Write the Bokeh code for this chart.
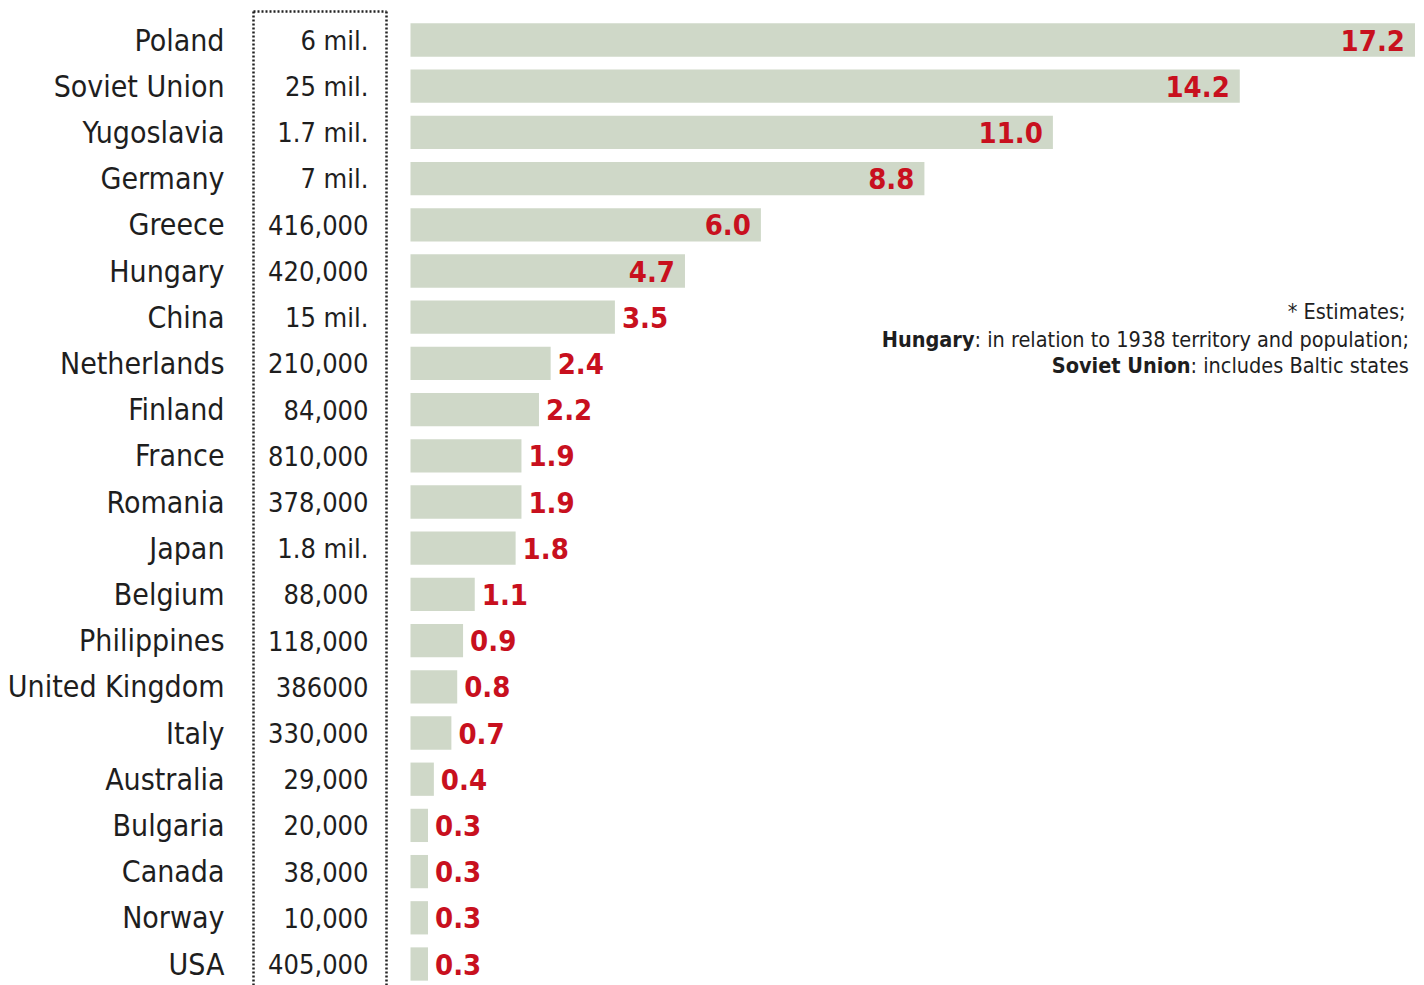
from bokeh.plotting import figure
from bokeh.models import ColumnDataSource, Range1d
from bokeh.core.properties import value
from bokeh.embed import file_html
from bokeh.resources import INLINE

countries = ["Poland", "Soviet Union", "Yugoslavia", "Germany", "Greece", "Hungary",
             "China", "Netherlands", "Finland", "France", "Romania", "Japan", "Belgium",
             "Philippines", "United Kingdom", "Italy", "Australia", "Bulgaria", "Canada",
             "Norway", "USA"]
deaths = ["6 mil.", "25 mil.", "1.7 mil.", "7 mil.", "416,000", "420,000", "15 mil.",
          "210,000", "84,000", "810,000", "378,000", "1.8 mil.", "88,000", "118,000",
          "386000", "330,000", "29,000", "20,000", "38,000", "10,000", "405,000"]
percent = [17.2, 14.2, 11.0, 8.8, 6.0, 4.7, 3.5, 2.4, 2.2, 1.9, 1.9, 1.8, 1.1, 0.9,
           0.8, 0.7, 0.4, 0.3, 0.3, 0.3, 0.3]
note_lines = ["* Estimates;", "in relation to 1938 territory and population;",
              "includes Baltic states"]
note_bold = ["", "Hungary", "Soviet Union"]

W, H = 1424, 985
X0_PX = 410.0
PX_PER_UNIT = 58.4
ROW_PX = 46.2
FIRST_ROW_PX = 39.5

def px2x(px):
    return (px - X0_PX) / PX_PER_UNIT

def px2y(py):
    return (FIRST_ROW_PX - py) / ROW_PX

BAR = "#cfd8c8"
RED = "#c8101e"
INK = "#1e1e1e"
FONT = "DejaVu Sans Condensed"

p = figure(width=W, height=H, output_backend="svg", toolbar_location=None,
           x_range=Range1d(px2x(0), px2x(W)), y_range=Range1d(px2y(H), px2y(0)),
           min_border=0, outline_line_color=None)
p.axis.visible = False
p.grid.visible = False
p.background_fill_color = "white"
p.border_fill_color = "white"

ys = [-i for i in range(len(countries))]
src = ColumnDataSource(dict(y=ys, name=countries, deaths=deaths, pct=percent))

p.hbar(y="y", left=0, right="pct", height=0.72, source=src,
       fill_color=BAR, line_color=None)

p.text(x=px2x(224), y="y", text="name", source=src, text_align="right",
       text_baseline="middle", text_font=value(FONT), text_font_size="30px",
       text_color=INK)
p.text(x=px2x(368), y="y", text="deaths", source=src, text_align="right",
       text_baseline="middle", text_font=value(FONT), text_font_size="27px",
       text_color=INK)

inside = [i for i, v in enumerate(percent) if v >= 4.5]
outside = [i for i, v in enumerate(percent) if v < 4.5]
def sub(idx):
    return ColumnDataSource(dict(y=[ys[i] for i in idx], x=[percent[i] for i in idx],
                                 t=[f"{percent[i]:.1f}" for i in idx]))
p.text(x="x", y="y", text="t", source=sub(inside), text_align="right", x_offset=-10,
       text_baseline="middle", text_font=value(FONT),
       text_font_size="29px", text_font_style="bold", text_color=RED)
p.text(x="x", y="y", text="t", source=sub(outside), text_align="left", x_offset=7,
       text_baseline="middle", text_font=value(FONT),
       text_font_size="29px", text_font_style="bold", text_color=RED)

# dotted box around the death-toll column
bx0, bx1 = px2x(253), px2x(386)
by0, by1 = px2y(11), px2y(H + 20)
p.multi_line(xs=[[bx0, bx0], [bx1, bx1], [bx0, bx1]],
             ys=[[by0, by1], [by0, by1], [by0, by0]],
             line_color="#222222", line_width=2.5, line_dash="2 2")

# notes
ny = [px2y(311), px2y(339), px2y(365)]
split_x = [px2x(1405), px2x(974), px2x(1190)]
p.text(x=[split_x[0]], y=[ny[0]], text=[note_lines[0]], text_align="right",
       text_baseline="middle", text_font=value(FONT), text_font_size="21.5px",
       text_color=INK)
p.text(x=split_x[1:], y=ny[1:], text=[": " + t for t in note_lines[1:]],
       text_align="left", text_baseline="middle", text_font=value(FONT),
       text_font_size="21.5px", text_color=INK)
p.text(x=split_x[1:], y=ny[1:], text=note_bold[1:], text_align="right",
       text_baseline="middle", text_font=value(FONT), text_font_size="21.5px",
       text_font_style="bold", text_color=INK)

open("out.html", "w").write(file_html(p, INLINE))
